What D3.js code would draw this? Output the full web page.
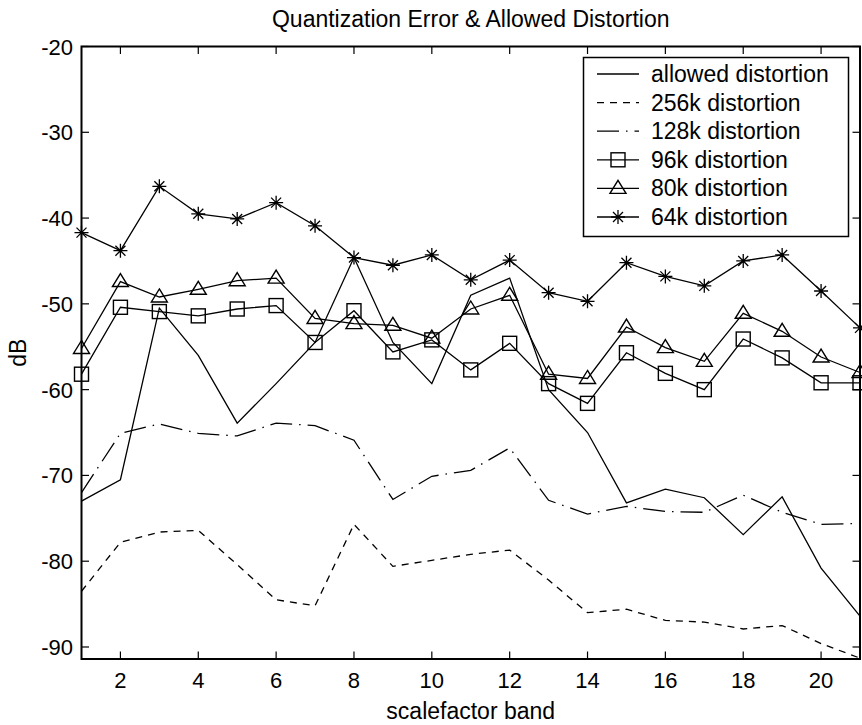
<html>
  <head>
    <script src="https://cdn.jsdelivr.net/npm/d3@7"></script>
    <style>
      body { margin: 0; background: #fff; }
      text { font-family: "Liberation Sans", Arial, sans-serif; fill: #000; }
    </style>
  </head>
  <body>
    <script>
      // scalefactor bands 1..21
      const bands = d3.range(1, 22);
      const allowed = [-73, -70.5, -50.5, -56, -63.9, -59.3, -54.5, -44.6, -54.5, -59.3, -49, -47, -60, -65, -73.2, -71.6, -72.6, -76.9, -72.5, -80.8, -86.4];
      const d256 = [-83.5, -77.8, -76.6, -76.4, -80.4, -84.5, -85.2, -75.7, -80.6, -79.9, -79.2, -78.7, -82.2, -86, -85.6, -86.9, -87.1, -87.9, -87.5, -89.6, -91.3];
      const d128 = [-72, -65.1, -64, -65.1, -65.4, -63.9, -64.2, -65.9, -72.8, -70.1, -69.4, -66.8, -72.9, -74.5, -73.6, -74.2, -74.3, -72.3, -74.3, -75.7, -75.6];
      const d96 = [-58.2, -50.4, -50.9, -51.4, -50.6, -50.2, -54.5, -50.8, -55.6, -54.2, -57.7, -54.6, -59.3, -61.6, -55.7, -58.1, -60, -54.1, -56.3, -59.2, -59.2];
      const d80 = [-55.2, -47.4, -49.2, -48.3, -47.3, -47, -51.7, -52.3, -52.5, -54, -50.6, -49, -58.2, -58.7, -52.7, -55.1, -56.7, -51.1, -53.2, -56.2, -58];
      const d64 = [-41.7, -43.8, -36.3, -39.5, -40.1, -38.2, -40.9, -44.6, -45.5, -44.3, -47.2, -44.9, -48.7, -49.7, -45.2, -46.8, -47.9, -45, -44.3, -48.5, -52.8];
      const xTicks = [2, 4, 6, 8, 10, 12, 14, 16, 18, 20];
      const yTicks = [-90, -80, -70, -60, -50, -40, -30, -20];

      const series = [
        { name: "allowed distortion", values: allowed, dash: null, marker: null },
        { name: "256k distortion", values: d256, dash: "7,6", marker: null },
        { name: "128k distortion", values: d128, dash: "22,7,1.5,7", marker: null },
        { name: "96k distortion", values: d96, dash: null, marker: "square" },
        { name: "80k distortion", values: d80, dash: null, marker: "triangle" },
        { name: "64k distortion", values: d64, dash: null, marker: "star" }
      ];

      const width = 862, height = 725;
      const plotL = 81.5, plotR = 860, plotT = 46.5, plotB = 659;

      const svg = d3.select("body").append("svg")
          .attr("width", width)
          .attr("height", height);

      const x = d3.scaleLinear().domain([1, 21]).range([plotL, plotR]);
      const y = d3.scaleLinear().domain([-91.4, -20]).range([plotB, plotT]);

      const line = d3.line()
          .x((d, i) => x(bands[i]))
          .y(d => y(d));

      function drawMarker(g, type, cx, cy) {
        if (type === "square") {
          g.append("rect").attr("x", cx - 7).attr("y", cy - 7)
              .attr("width", 14).attr("height", 14)
              .attr("fill", "none").attr("stroke", "#000").attr("stroke-width", 1.4);
        } else if (type === "triangle") {
          g.append("path")
              .attr("d", `M${cx},${cy - 8}L${cx + 8},${cy + 5}L${cx - 8},${cy + 5}Z`)
              .attr("fill", "none").attr("stroke", "#000").attr("stroke-width", 1.4);
        } else if (type === "star") {
          const r = 7, q = 5;
          g.append("path")
              .attr("d", `M${cx - r},${cy}L${cx + r},${cy}M${cx},${cy - r}L${cx},${cy + r}` +
                `M${cx - q},${cy - q}L${cx + q},${cy + q}M${cx - q},${cy + q}L${cx + q},${cy - q}`)
              .attr("fill", "none").attr("stroke", "#000").attr("stroke-width", 1.3);
        }
      }

      // axes box
      svg.append("rect")
          .attr("x", plotL).attr("y", plotT)
          .attr("width", plotR - plotL).attr("height", plotB - plotT)
          .attr("fill", "none").attr("stroke", "#000").attr("stroke-width", 2);

      // inward ticks on all four sides
      const tickLen = 7.5;
      const ticks = svg.append("g").attr("stroke", "#000").attr("stroke-width", 1.2);
      xTicks.forEach(t => {
        ticks.append("line").attr("x1", x(t)).attr("x2", x(t)).attr("y1", plotB).attr("y2", plotB - tickLen);
        ticks.append("line").attr("x1", x(t)).attr("x2", x(t)).attr("y1", plotT).attr("y2", plotT + tickLen);
      });
      yTicks.forEach(t => {
        ticks.append("line").attr("x1", plotL).attr("x2", plotL + tickLen).attr("y1", y(t)).attr("y2", y(t));
        ticks.append("line").attr("x1", plotR).attr("x2", plotR - tickLen).attr("y1", y(t)).attr("y2", y(t));
      });

      svg.append("g").selectAll("text").data(xTicks).join("text")
          .attr("x", d => x(d)).attr("y", 688)
          .attr("text-anchor", "middle").attr("font-size", 22)
          .text(d => d);

      svg.append("g").selectAll("text").data(yTicks).join("text")
          .attr("x", 73).attr("y", d => y(d) + 8)
          .attr("text-anchor", "end").attr("font-size", 22)
          .text(d => d);

      svg.append("text")
          .attr("x", (plotL + plotR) / 2).attr("y", 27)
          .attr("text-anchor", "middle").attr("font-size", 23)
          .text("Quantization Error & Allowed Distortion");

      svg.append("text")
          .attr("x", (plotL + plotR) / 2).attr("y", 719)
          .attr("text-anchor", "middle").attr("font-size", 23)
          .text("scalefactor band");

      svg.append("text")
          .attr("transform", `translate(26,${(plotT + plotB) / 2}) rotate(-90)`)
          .attr("text-anchor", "middle").attr("font-size", 23)
          .text("dB");

      // data lines
      const plot = svg.append("g");
      series.forEach(s => {
        plot.append("path")
            .datum(s.values)
            .attr("fill", "none")
            .attr("stroke", "#000")
            .attr("stroke-width", 1.3)
            .attr("stroke-dasharray", s.dash)
            .attr("d", line);
        if (s.marker) {
          const mg = plot.append("g");
          s.values.forEach((v, i) => drawMarker(mg, s.marker, x(bands[i]), y(v)));
        }
      });

      // legend
      const lg = svg.append("g");
      lg.append("rect")
          .attr("x", 583.5).attr("y", 57.5)
          .attr("width", 265).attr("height", 179)
          .attr("fill", "#fff").attr("stroke", "#000").attr("stroke-width", 1.5);
      series.forEach((s, i) => {
        const ly = 74 + i * 28.6;
        lg.append("line")
            .attr("x1", 597).attr("x2", 639)
            .attr("y1", ly).attr("y2", ly)
            .attr("stroke", "#000").attr("stroke-width", 1.3)
            .attr("stroke-dasharray", s.dash);
        if (s.marker) drawMarker(lg, s.marker, 618, ly);
        lg.append("text")
            .attr("x", 651).attr("y", ly + 8)
            .attr("font-size", 23)
            .text(s.name);
      });
    </script>
  </body>
</html>
